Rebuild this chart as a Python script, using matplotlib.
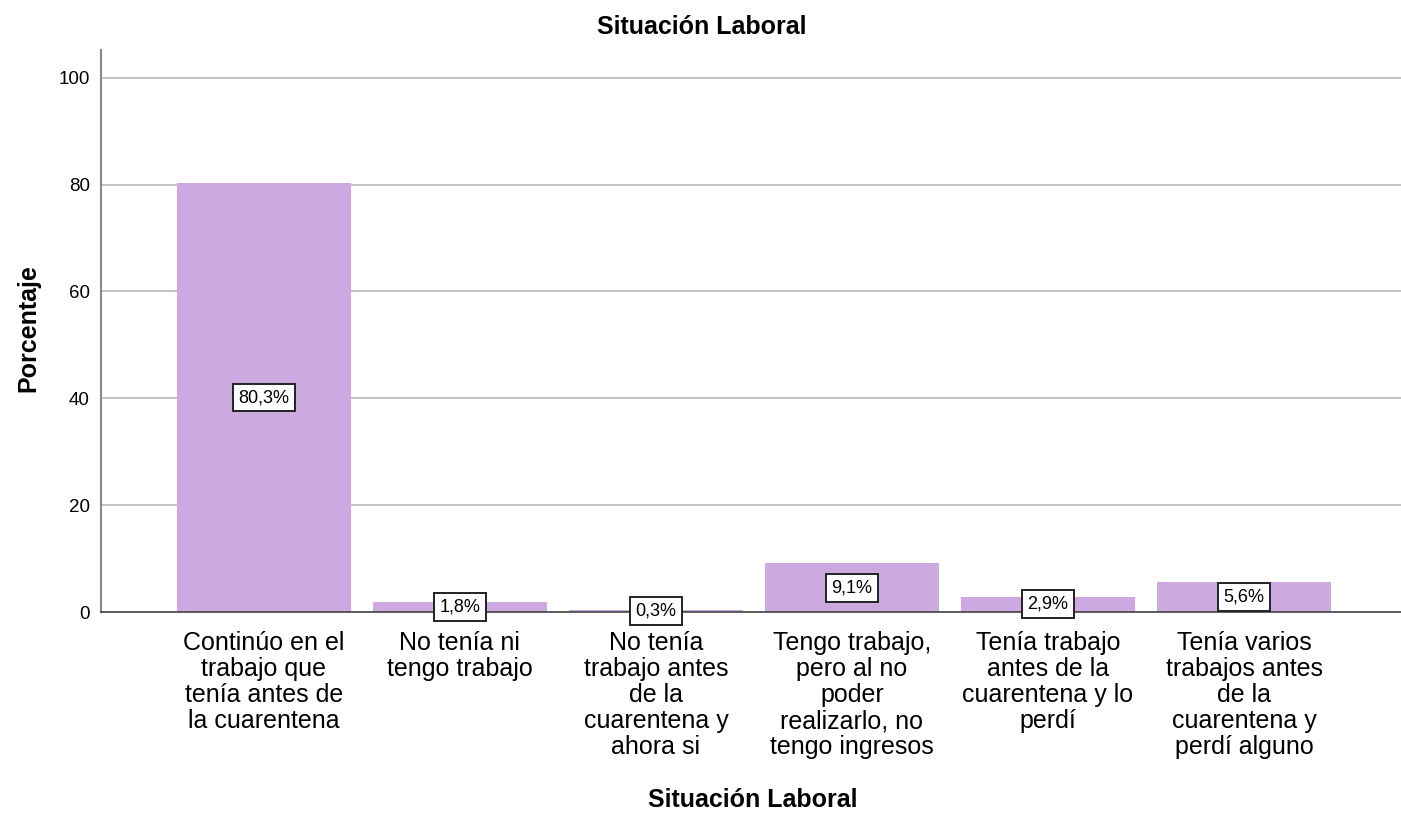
import matplotlib
matplotlib.use("Agg")
import matplotlib.pyplot as plt

categories = [
    "Continúo en el\ntrabajo que\ntenía antes de\nla cuarentena",
    "No tenía ni\ntengo trabajo",
    "No tenía\ntrabajo antes\nde la\ncuarentena y\nahora si",
    "Tengo trabajo,\npero al no\npoder\nrealizarlo, no\ntengo ingresos",
    "Tenía trabajo\nantes de la\ncuarentena y lo\nperdí",
    "Tenía varios\ntrabajos antes\nde la\ncuarentena y\nperdí alguno",
]
values = [80.3, 1.8, 0.3, 9.1, 2.9, 5.6]
value_labels = ["80,3%", "1,8%", "0,3%", "9,1%", "2,9%", "5,6%"]
yticks = [0, 20, 40, 60, 80, 100]

plt.rcParams['font.family'] = ['Liberation Sans', 'DejaVu Sans']

fig = plt.figure(figsize=(14.01, 8.13), dpi=100)
ax = fig.add_axes([0.0721, 0.2472, 0.9279, 0.6913])

x = list(range(1, len(values) + 1))
ax.bar(x, values, width=0.89, color='#CDA9E1', zorder=2)

for xi, v, lab in zip(x, values, value_labels):
    ax.text(xi, v / 2, lab, ha='center', va='center', fontsize=13, zorder=4,
            bbox=dict(boxstyle='square,pad=0.3', facecolor='white', edgecolor='#222222', linewidth=1.4))

ax.set_xlim(0.17, 6.8)
ax.set_ylim(0, 105.2)
ax.set_yticks(yticks)
ax.set_yticklabels([str(t) for t in yticks], fontsize=13.5)
ax.set_xticks(x)
ax.set_xticklabels(categories, fontsize=18, linespacing=1.1)
ax.tick_params(axis='both', length=0, pad=8)
ax.tick_params(axis='x', pad=14)
ax.yaxis.grid(True, color='#B8B8B8', linewidth=1.2, zorder=0)
ax.set_axisbelow(True)

for s in ['top', 'right']:
    ax.spines[s].set_visible(False)
ax.spines['left'].set_color('#888888')
ax.spines['left'].set_linewidth(1.5)
ax.spines['bottom'].set_color('#444444')
ax.spines['bottom'].set_linewidth(1.2)

fig.text(0.501, 0.967, "Situación Laboral", ha='center', va='center', fontsize=18, fontweight='bold')
fig.text(0.537, 0.016, "Situación Laboral", ha='center', va='center', fontsize=18, fontweight='bold')
fig.text(0.02, 0.597, "Porcentaje", ha='center', va='center', fontsize=18, fontweight='bold', rotation=90)

fig.savefig("out.png", dpi=100)
